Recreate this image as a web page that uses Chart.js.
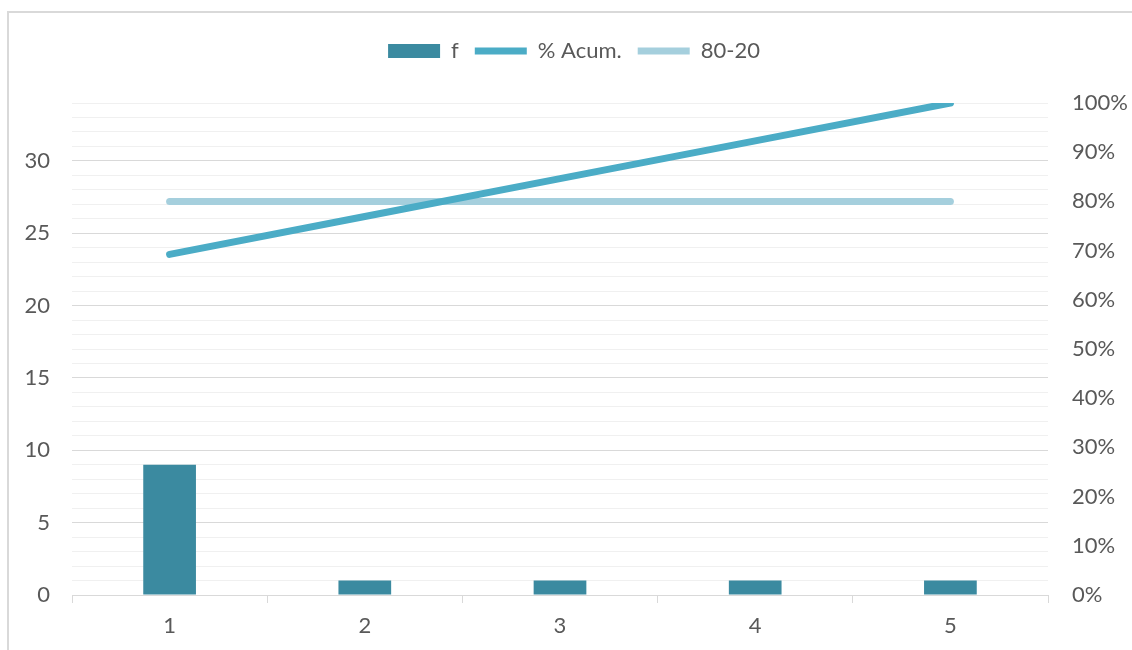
<!DOCTYPE html>
<html>
<head>
<meta charset="utf-8">
<script src="https://cdn.jsdelivr.net/npm/chart.js@4.4.0/dist/chart.umd.min.js"></script>
<style>
    html, body { margin: 0; padding: 0; background: #fff; overflow: hidden; }
    #wrap { position: relative; width: 1132px; height: 650px; }
    #frame { position: absolute; left: 7px; top: 11px; width: 2000px; height: 2000px; border: 2px solid #d9d9d9; pointer-events: none; }
</style>
</head>
<body>
<div id="wrap">
    <canvas id="paretoChart" width="1132" height="650"></canvas>
    <div id="frame"></div>
</div>
<script>
// datos del diagrama de Pareto
var categorias = ["1", "2", "3", "4", "5"];
var frecuencias = [9, 1, 1, 1, 1];
var acumulado = [69.23, 76.92, 84.62, 92.31, 100];
var linea8020 = [80, 80, 80, 80, 80];

var textColor = "#595959";
Chart.defaults.font.family = "Lato, 'Open Sans', sans-serif";
Chart.defaults.font.size = 22;
Chart.defaults.color = textColor;

var ctx = document.getElementById("paretoChart").getContext("2d");
var paretoChart = new Chart(ctx, {
    type: "bar",
    data: {
        labels: categorias,
        datasets: [
            {
                label: "f",
                data: frecuencias,
                backgroundColor: "#3b8aa0",
                borderWidth: 0,
                barPercentage: 0.27,
                categoryPercentage: 1,
                pointStyle: "rect",
                yAxisID: "y",
                order: 3,
            },
            {
                type: "line",
                label: "% Acum.",
                data: acumulado,
                borderColor: "#4bacc6",
                backgroundColor: "#4bacc6",
                borderWidth: 7,
                borderCapStyle: "round",
                pointRadius: 0,
                pointStyle: "line",
                yAxisID: "y1",
                order: 1,
            },
            {
                type: "line",
                label: "80-20",
                data: linea8020,
                borderColor: "#a5cfdd",
                backgroundColor: "#a5cfdd",
                borderWidth: 7,
                borderCapStyle: "round",
                pointRadius: 0,
                pointStyle: "line",
                yAxisID: "y1",
                order: 2,
            },
        ],
    },
    options: {
        responsive: false,
        animation: false,
        layout: { padding: { top: 24, left: 16, right: 0, bottom: 0 } },
        plugins: {
            tooltip: { enabled: false },
            // titulo vacio: solo deja espacio entre la leyenda y el grafico
            title: {
                display: true,
                text: " ",
                weight: 500,
                font: { size: 10 },
                padding: { top: 0, bottom: 19 },
            },
            legend: {
                position: "top",
                labels: {
                    usePointStyle: true,
                    pointStyleWidth: 52,
                    boxWidth: 52,
                    boxHeight: 14,
                    padding: 16,
                    color: textColor,
                    sort: function (a, b) { return a.datasetIndex - b.datasetIndex; },
                },
            },
        },
        scales: {
            x: {
                grid: {
                    offset: true,
                    drawOnChartArea: false,
                    drawTicks: true,
                    tickLength: 8,
                    color: "#d9d9d9",
                },
                border: { color: "#d9d9d9", width: 1 },
                ticks: { padding: 10 },
                afterFit: function (scale) { scale.height = 55; },
            },
            y: {
                position: "left",
                min: 0,
                max: 34,
                ticks: {
                    stepSize: 1,
                    autoSkip: false,
                    padding: 22,
                    callback: function (v) { return v % 5 === 0 ? v : ""; },
                },
                grid: {
                    drawTicks: false,
                    color: function (c) {
                        return c.tick && c.tick.value % 5 === 0 ? "#d9d9d9" : "#f0f0f0";
                    },
                },
                border: { display: false },
                afterFit: function (scale) { scale.width = 56; },
            },
            y1: {
                position: "right",
                min: 0,
                max: 100,
                ticks: {
                    stepSize: 10,
                    padding: 24,
                    callback: function (v) { return v + "%"; },
                },
                grid: { drawOnChartArea: false, drawTicks: false },
                border: { display: false },
                afterFit: function (scale) { scale.width = 84; },
            },
        },
    },
});
</script>
</body>
</html>
